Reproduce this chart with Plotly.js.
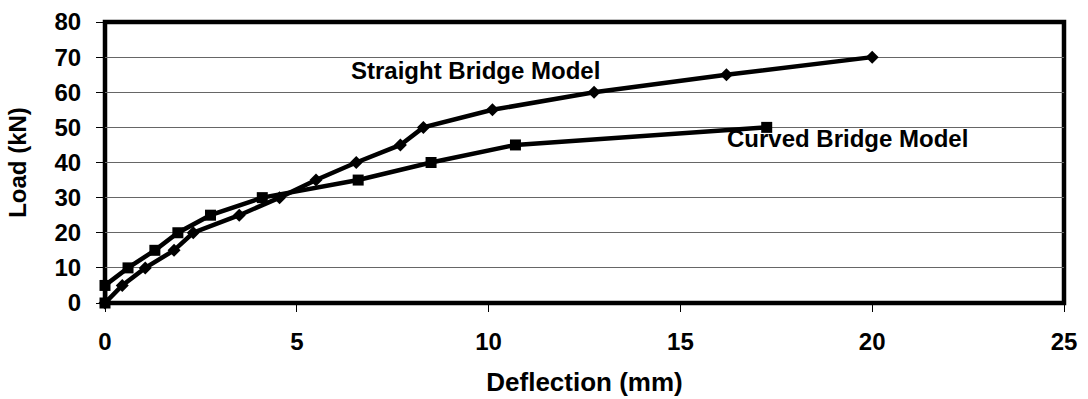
<!DOCTYPE html>
<html>
<head>
<meta charset="utf-8">
<script src="https://cdn.plot.ly/plotly-3.0.1.min.js"></script>
<style>html,body{margin:0;padding:0;background:#fff;}#chart{width:1088px;height:399px;}</style>
</head>
<body>
<div id="chart"></div>
<script>
// Data
const straightX = [0, 0.45, 1.05, 1.8, 2.3, 3.5, 4.55, 5.5, 6.55, 7.7, 8.3, 10.1, 12.75, 16.2, 20];
const straightY = [0, 5, 10, 15, 20, 25, 30, 35, 40, 45, 50, 55, 60, 65, 70];
const curvedX = [0, 0, 0.6, 1.3, 1.9, 2.75, 4.1, 6.6, 8.5, 10.7, 17.25];
const curvedY = [0, 5, 10, 15, 20, 25, 30, 35, 40, 45, 50];
const seriesNames = ["Straight Bridge Model", "Curved Bridge Model"];
const labelPos = [[9.65, 66.2], [19.35, 46.9]];
const xTitle = "Deflection (mm)";
const yTitle = "Load (kN)";

const FONT = "Liberation Sans, Arial, sans-serif";

const traces = [
  {
    x: straightX, y: straightY, name: seriesNames[0], type: "scatter", mode: "lines+markers",
    line: {color: "#000", width: 4.5}, marker: {symbol: "diamond", size: 10, color: "#000"},
    cliponaxis: false
  },
  {
    x: curvedX, y: curvedY, name: seriesNames[1], type: "scatter", mode: "lines+markers",
    line: {color: "#000", width: 4.5}, marker: {symbol: "square", size: 11, color: "#000"},
    cliponaxis: false
  }
];

const layout = {
  width: 1088, height: 399,
  margin: {l: 105, r: 24, t: 22, b: 96},
  paper_bgcolor: "#fff", plot_bgcolor: "#fff",
  showlegend: false,
  font: {family: FONT, size: 22, color: "#000", weight: "bold"},
  xaxis: {
    range: [0, 25], dtick: 5, tick0: 0,
    showgrid: false, zeroline: false,
    ticks: "outside", ticklen: 8, tickwidth: 1, tickcolor: "#000",
    ticklabelstandoff: 9,
    tickfont: {family: FONT, size: 24, color: "#000", weight: "bold"},
    title: {text: xTitle, font: {family: FONT, size: 26, color: "#000", weight: "bold"}, standoff: 19},
    automargin: false
  },
  yaxis: {
    range: [0, 80], dtick: 10, tick0: 0,
    showgrid: true, gridcolor: "#666", gridwidth: 1, zeroline: false,
    ticks: "outside", ticklen: 8, tickwidth: 1, tickcolor: "#000",
    ticklabelstandoff: 10,
    tickfont: {family: FONT, size: 24, color: "#000", weight: "bold"},
    title: {text: yTitle, font: {family: FONT, size: 24, color: "#000", weight: "bold"}, standoff: 21},
    automargin: false
  },
  shapes: [
    {type: "rect", xref: "paper", yref: "paper", x0: 0, x1: 1, y0: 0, y1: 1,
     line: {color: "#000", width: 4.5}, layer: "below"}
  ],
  annotations: [
    {x: labelPos[0][0], y: labelPos[0][1], text: seriesNames[0], showarrow: false,
     font: {family: FONT, size: 24, color: "#000", weight: "bold"}},
    {x: labelPos[1][0], y: labelPos[1][1], text: seriesNames[1], showarrow: false,
     font: {family: FONT, size: 24, color: "#000", weight: "bold"}}
  ]
};

Plotly.newPlot("chart", traces, layout, {staticPlot: true, displayModeBar: false});
</script>
</body>
</html>
